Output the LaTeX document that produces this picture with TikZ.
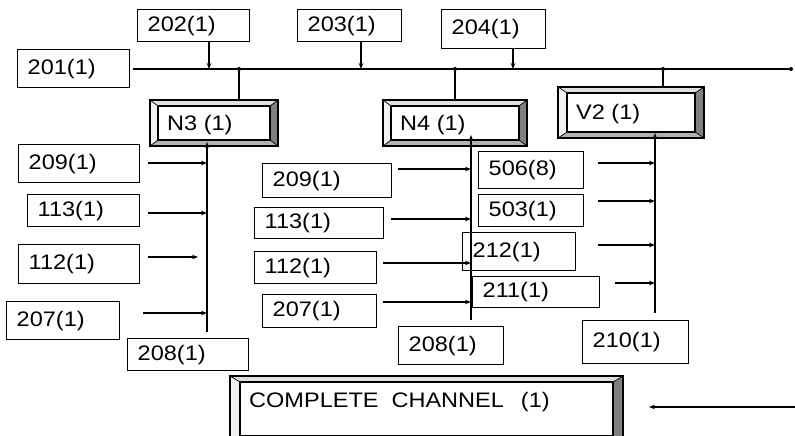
\documentclass[tikz,border=0pt]{standalone}
\usepackage{fontspec}
\setmainfont[FakeStretch=1.12]{Liberation Sans}
\usetikzlibrary{arrows.meta}

\colorlet{bvtop}{black!12}
\colorlet{bvleft}{black!5}
\colorlet{bvright}{black!50}
\colorlet{bvbottom}{black!30}

% plain box: name, x1, y1, x2, y2, text
\newcommand{\lbox}[6]{%
  \pgfmathsetmacro\bw{#4-#2-20}\pgfmathsetmacro\bh{#5-#3}%
  \node[lbl, text width=\bw pt, minimum height=\bh pt] (#1) at (#2,#3) {#6};}

% raised box: name, x1, y1, x2, y2, inset, baseline, text
\newcommand{\bevelbox}[8]{%
  \fill[white] (#2,#3) rectangle (#4,#5);
  \fill[bvtop] (#2,#3) -- (#4,#3) -- (#4-#6,#3+6) -- (#2+#6,#3+6) -- cycle;
  \fill[bvleft] (#2,#3) -- (#2+#6,#3+6) -- (#2+#6,#5-6) -- (#2,#5) -- cycle;
  \fill[bvright] (#4,#3) -- (#4,#5) -- (#4-#6,#5-6) -- (#4-#6,#3+6) -- cycle;
  \fill[bvbottom] (#2,#5) -- (#4,#5) -- (#4-#6,#5-6) -- (#2+#6,#5-6) -- cycle;
  \draw[line width=0.7pt] (#2,#3) -- (#2+#6,#3+6) (#4,#3) -- (#4-#6,#3+6)
    (#2,#5) -- (#2+#6,#5-6) (#4,#5) -- (#4-#6,#5-6);
  \draw[line width=1.4pt] (#2,#3) rectangle (#4,#5);
  \draw[line width=1.3pt] (#2+#6,#3+6) rectangle (#4-#6,#5-6);
  \node[bvtext] (#1) at (#2+#6+9,#7) {#8};}

\begin{document}
\begin{tikzpicture}[x=1pt,y=-1pt,
    lbl/.style={draw, line width=1.4pt, anchor=north west, inner xsep=10pt,
      inner ysep=0pt, align=left, font=\fontsize{21}{24}\selectfont},
    bvtext/.style={anchor=base west, inner sep=0pt, font=\fontsize{21}{24}\selectfont},
    wire/.style={line width=1.2pt},
    arr/.style={wire, -{Stealth[length=6pt,width=4.5pt]}},
    joint/.style={circle, fill, inner sep=0pt, minimum size=4pt}]
  \useasboundingbox (0,0) rectangle (795,436);

  % Bus
  \coordinate (busL) at (133,69);
  \node[joint] (busR) at (791,69) {};
  \draw[wire] (busL) -- (busR);

  % Top boxes
  \lbox{b201}{17}{49}{129}{87}{201(1)}
  \lbox{b202}{137}{9}{249}{41}{202(1)}
  \lbox{b203}{297}{9}{401}{41}{203(1)}
  \lbox{b204}{441}{9}{545}{48}{204(1)}
  \coordinate (a202) at (209,69);
  \coordinate (a203) at (361,69);
  \coordinate (a204) at (513,69);
  \draw[arr] (b202.south -| a202) -- (a202);
  \draw[arr] (b203.south -| a203) -- (a203);
  \draw[arr] (b204.south -| a204) -- (a204);

  % Raised boxes
  \bevelbox{n3}{150}{100}{278}{146}{8}{130}{N3 (1)}
  \bevelbox{n4}{383}{100}{527}{146}{8}{130}{N4 (1)}
  \bevelbox{v2}{558}{87}{704}{138}{9}{119}{V2 (1)}
  \bevelbox{cc}{230}{376}{623}{442}{10}{407}{COMPLETE\hspace{13pt}CHANNEL\hspace{17pt}(1)}

  % Taps from the bus
  \node[joint] (j3) at (239,69) {};
  \node[joint] (j4) at (455,69) {};
  \node[joint] (j2) at (663,69) {};
  \draw[wire] (j3) -- (239,100);
  \draw[wire] (j4) -- (455,100);
  \draw[wire] (j2) -- (663,87);

  % Feeds into N3, N4, V2
  \coordinate (n3in) at (207,142);  \coordinate (n3foot) at (207,332);
  \coordinate (n4in) at (471,135);  \coordinate (n4foot) at (471,320);
  \coordinate (v2in) at (655,133);  \coordinate (v2foot) at (655,313);
  \draw[arr] (n3foot) -- (n3in);
  \draw[arr] (n4foot) -- (n4in);
  \draw[arr] (v2foot) -- (v2in);

  % Left column
  \lbox{b209a}{18}{144}{139}{182}{209(1)}
  \lbox{b113a}{27}{194}{139}{226}{113(1)}
  \lbox{b112a}{18}{244}{139}{283}{112(1)}
  \lbox{b207a}{6}{301}{119}{339}{207(1)}
  \lbox{b208a}{127}{338}{248}{370}{208(1)}
  \coordinate (s209a) at (148,163);
  \coordinate (s113a) at (148,213);
  \coordinate (s112a) at (148,257);
  \coordinate (e112a) at (198,257);
  \coordinate (s207a) at (143,313);
  \draw[arr] (s209a) -- (s209a -| n3in);
  \draw[arr] (s113a) -- (s113a -| n3in);
  \draw[arr] (s112a) -- (e112a);
  \draw[arr] (s207a) -- (s207a -| n3in);

  % Middle column
  \lbox{b209b}{262}{163}{391}{197}{209(1)}
  \lbox{b113b}{254}{207}{383}{238}{113(1)}
  \lbox{b112b}{254}{251}{376}{283}{112(1)}
  \lbox{b207b}{262}{294}{376}{327}{207(1)}
  \lbox{b208b}{398}{326}{503}{364}{208(1)}
  \coordinate (s209b) at (398,169);
  \coordinate (s113b) at (391,219);
  \coordinate (s112b) at (383,263);
  \coordinate (s207b) at (383,302);
  \draw[arr] (s209b) -- (s209b -| n4in);
  \draw[arr] (s113b) -- (s113b -| n4in);
  \draw[arr] (s112b) -- (s112b -| n4in);
  \draw[arr] (s207b) -- (s207b -| n4in);

  % Right column
  \lbox{b506}{478}{151}{583}{188}{506(8)}
  \lbox{b503}{478}{194}{583}{226}{503(1)}
  \lbox{b212}{462}{232}{575}{270}{212(1)}
  \lbox{b211}{472}{276}{599}{307}{211(1)}
  \lbox{b210}{582}{320}{688}{363}{210(1)}
  \coordinate (s506) at (598,163);
  \coordinate (s503) at (598,201);
  \coordinate (s212) at (598,245);
  \coordinate (s211) at (615,283);
  \draw[arr] (s506) -- (s506 -| v2in);
  \draw[arr] (s503) -- (s503 -| v2in);
  \draw[arr] (s212) -- (s212 -| v2in);
  \draw[arr] (s211) -- (s211 -| v2in);

  % Into the channel box
  \coordinate (ccin) at (795,407);
  \draw[arr] (ccin) -- (649,407);
\end{tikzpicture}
\end{document}
